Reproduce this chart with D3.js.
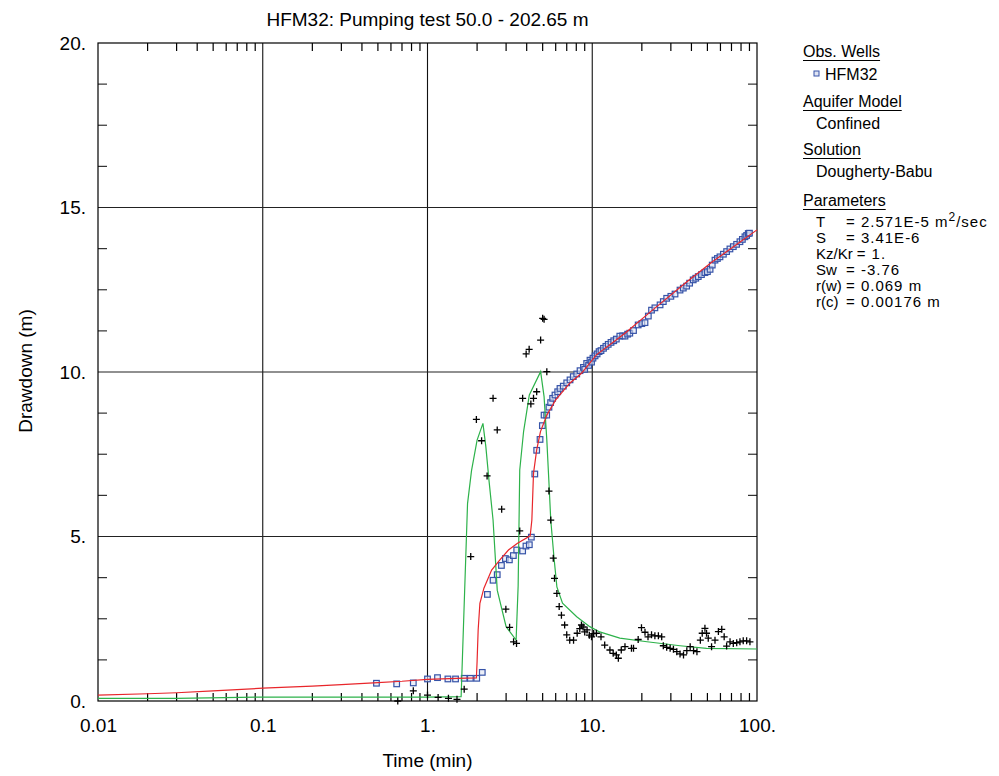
<!DOCTYPE html>
<html>
<head>
<meta charset="utf-8">
<script src="https://cdn.jsdelivr.net/npm/d3@7"></script>
<style>
  body { margin: 0; background: #fff; }
  svg { font-family: "Liberation Sans", Arial, sans-serif; }
</style>
</head>
<body>
<script>
// 축 눈금 라벨
var xTicks = [0.01, 0.1, 1, 10, 100];
var xTickLabels = ["0.01", "0.1", "1.", "10.", "100."];
var yTicks = [0, 5, 10, 15, 20];
var yTickLabels = ["0.", "5.", "10.", "15.", "20."];

// 관측정 HFM32 (사각형): [시간(min), 수위강하(m)]
var obsPoints = [
  [0.49,0.54],[0.65,0.52],[0.82,0.55],[1.0,0.67],[1.15,0.71],[1.33,0.67],[1.48,0.67],
  [1.67,0.69],[1.82,0.69],[1.99,0.69],[2.15,0.87],[2.31,3.24],[2.50,3.67],[2.65,3.84],
  [2.81,4.12],[2.97,4.33],[3.14,4.29],[3.32,4.42],[3.48,4.59],[3.78,4.56],[3.96,4.71],
  [4.15,4.75],[4.27,4.98],[4.48,6.90],[4.60,7.62],[4.82,7.95],[4.98,8.37],[5.10,8.69],
  [5.29,8.69],[5.46,8.93],[5.59,9.07],[5.75,9.20],[5.94,9.30],[6.17,9.40],[6.37,9.50],
  [6.67,9.57],[7.00,9.67],[7.33,9.76],[7.67,9.86],[8.05,9.94],[8.43,10.04],[8.84,10.14],
  [9.0,10.08],[9.25,10.26],[9.5,10.2],[9.69,10.36],[9.9,10.3],[10.1,10.42],[10.4,10.49],
  [10.7,10.55],[11.0,10.62],[11.3,10.65],[11.7,10.72],[12.1,10.78],[12.5,10.84],[13.0,10.9],
  [13.5,10.95],[14.0,11.0],[14.7,11.09],[15.3,11.1],[15.8,11.09],[16.4,11.15],[16.9,11.18],
  [17.8,11.26],[19.0,11.43],[20.0,11.47],[20.9,11.50],[21.9,11.70],[22.9,11.88],[24.0,11.95],
  [25.8,12.04],[27.0,12.14],[28.3,12.24],[30.0,12.3],[31.8,12.37],[34.1,12.49],[35.7,12.55],
  [37.4,12.61],[39.0,12.7],[41.0,12.80],[42.5,12.85],[44.0,12.90],[46.0,12.96],[48.3,13.02],
  [50.0,13.05],[51.9,13.12],[53.5,13.25],[55.6,13.40],[57.5,13.45],[59.6,13.50],[62.5,13.58],
  [65.4,13.66],[68.5,13.74],[71.8,13.81],[75.2,13.88],[78.8,13.96],[81.5,14.03],[84.5,14.11],
  [86.5,14.15],[88.5,14.21],[90,14.22]
];

// 양수정 측정값 (+ 기호)
var pumpPoints = [
  [0.66,0.0],[0.82,0.31],[1.0,0.18],[1.16,0.11],[1.34,0.08],[1.51,0.05],[1.67,0.36],
  [1.83,4.39],[1.98,8.56],[2.13,7.91],[2.30,6.84],[2.50,9.20],[2.65,8.24],[2.82,5.83],
  [2.99,2.79],[3.15,2.24],[3.33,1.80],[3.47,1.75],[3.63,5.17],[3.78,9.20],[3.97,10.55],
  [4.14,10.69],[4.24,9.03],[4.40,9.20],[4.60,9.40],[4.86,10.97],[5.0,11.63],[5.1,11.60],
  [5.3,10.01],[5.46,6.38],[5.6,5.50],[5.8,4.34],[5.9,3.73],[6.1,3.27],[6.3,2.87],[6.5,2.61],
  [6.8,2.31],[7.0,2.01],[7.3,1.85],[7.7,1.85],[8.1,2.06],[8.4,2.2],[8.6,2.31],[8.8,2.25],
  [9.0,2.1],[9.3,2.16],[9.6,2.0],[9.9,1.95],[10.2,2.05],[10.6,2.06],[11.3,1.95],[11.9,1.70],
  [12.8,1.55],[13.4,1.45],[14.0,1.40],[14.4,1.30],[15.0,1.55],[15.8,1.65],[17.3,1.60],
  [17.8,1.60],[19.0,1.87],[19.9,2.23],[20.9,2.09],[21.8,1.95],[22.9,2.01],[24.0,1.98],
  [25.2,1.98],[26.4,1.95],[27.0,1.68],[28.3,1.63],[29.7,1.60],[31.1,1.57],[32.6,1.50],
  [34.1,1.43],[35.8,1.40],[37.5,1.53],[39.3,1.65],[41.2,1.53],[43.2,1.50],[45.3,1.85],
  [46.5,2.06],[48.3,2.21],[49.4,2.06],[50.6,1.91],[53.0,1.65],[55.6,1.85],[58.3,2.11],
  [61.1,2.18],[63.2,1.95],[65.4,1.67],[68.6,1.80],[71.8,1.75],[75.3,1.77],[78.8,1.80],
  [82.5,1.83],[86.5,1.83],[90.6,1.80]
];

// Dougherty-Babu 적합 곡선 (관측정, 빨강)
var obsFit = [
  [0.01,0.18],[0.02,0.22],[0.03,0.25],[0.05,0.31],[0.1,0.39],[0.2,0.45],[0.3,0.5],
  [0.5,0.56],[0.7,0.6],[1.0,0.66],[1.5,0.69],[1.98,0.70],[2.0,1.2],[2.03,2.16],[2.08,2.97],
  [2.2,3.43],[2.45,3.98],[2.75,4.29],[3.1,4.59],[3.5,4.79],[4.2,5.02],[4.3,5.5],[4.4,6.92],
  [4.6,7.63],[4.85,8.19],[5.3,8.69],[6.0,9.15],[7.3,9.66],[8.6,9.96],[10.6,10.52],
  [15.8,11.18],[23.2,11.88],[37.7,12.75],[53.6,13.35],[77,13.91],[100,14.32]
];

// 적합 곡선 (양수정, 초록)
var pumpFit = [
  [0.01,0.08],[0.03,0.08],[0.1,0.12],[1.0,0.12],[1.6,0.13],[1.75,6.0],[1.85,7.0],
  [2.0,7.93],[2.17,8.44],[2.26,7.73],[2.36,6.72],[2.5,5.5],[2.65,3.37],[3.0,2.26],
  [3.45,1.85],[3.55,3.5],[3.63,7.02],[3.83,8.19],[4.15,9.30],[4.86,10.01],[5.1,9.25],
  [5.3,7.93],[5.45,6.72],[5.6,5.5],[5.85,4.39],[6.1,3.47],[6.6,2.97],[8.05,2.56],
  [9.66,2.26],[11.1,2.1],[14.7,1.91],[21.5,1.80],[34.1,1.68],[49.4,1.60],[100,1.58]
];

// 범례 파라미터
var paramNames = ["T", "S", "Kz/Kr", "Sw", "r(w)", "r(c)"];
var paramValues = ["= 2.571E-5 m", "= 3.41E-6", "= 1.", "= -3.76", "= 0.069 m", "= 0.00176 m"];

var LEFT = 98, RIGHT = 757, TOP = 43, BOTTOM = 701;

var svg = d3.select("body").append("svg")
  .attr("width", 999).attr("height", 776);

var x = d3.scaleLog().domain([0.01, 100]).range([LEFT, RIGHT]);
var y = d3.scaleLinear().domain([0, 20]).range([BOTTOM, TOP]);

// 보조 눈금
var xMinor = x.ticks().filter(function (d) { return xTicks.indexOf(d) < 0; });
var yMinor = d3.range(0, 20.01, 1.25).filter(function (d) { return d % 5 !== 0; });

var g = svg.append("g");

g.selectAll(".xminor-b").data(xMinor).enter().append("line")
  .attr("x1", function (d) { return x(d); }).attr("x2", function (d) { return x(d); })
  .attr("y1", BOTTOM).attr("y2", BOTTOM - 8)
  .attr("stroke", "#000").attr("stroke-width", 1.2);
g.selectAll(".xminor-t").data(xMinor).enter().append("line")
  .attr("x1", function (d) { return x(d); }).attr("x2", function (d) { return x(d); })
  .attr("y1", TOP).attr("y2", TOP + 8)
  .attr("stroke", "#000").attr("stroke-width", 1.2);
g.selectAll(".yminor-l").data(yMinor).enter().append("line")
  .attr("x1", LEFT).attr("x2", LEFT + 9)
  .attr("y1", function (d) { return y(d); }).attr("y2", function (d) { return y(d); })
  .attr("stroke", "#333").attr("stroke-width", 1.2);
g.selectAll(".yminor-r").data(yMinor).enter().append("line")
  .attr("x1", RIGHT).attr("x2", RIGHT - 9)
  .attr("y1", function (d) { return y(d); }).attr("y2", function (d) { return y(d); })
  .attr("stroke", "#333").attr("stroke-width", 1.2);

// 격자선
g.selectAll(".vgrid").data(xTicks.slice(1, -1)).enter().append("line")
  .attr("x1", function (d) { return x(d); }).attr("x2", function (d) { return x(d); })
  .attr("y1", TOP).attr("y2", BOTTOM)
  .attr("stroke", "#111").attr("stroke-width", 1.1);
g.selectAll(".hgrid").data(yTicks.slice(1, -1)).enter().append("line")
  .attr("x1", LEFT).attr("x2", RIGHT)
  .attr("y1", function (d) { return y(d); }).attr("y2", function (d) { return y(d); })
  .attr("stroke", "#222").attr("stroke-width", 1.1);

g.append("rect")
  .attr("x", LEFT).attr("y", TOP)
  .attr("width", RIGHT - LEFT).attr("height", BOTTOM - TOP)
  .attr("fill", "none").attr("stroke", "#000").attr("stroke-width", 1.2);

// 축 라벨
var xAxis = d3.axisBottom(x).tickValues(xTicks)
  .tickFormat(function (d, i) { return xTickLabels[i]; })
  .tickSize(0).tickPadding(18);
var xg = svg.append("g").attr("transform", "translate(0," + BOTTOM + ")").call(xAxis);
xg.select(".domain").remove();
xg.selectAll("text").attr("font-size", 19).attr("fill", "#000")
  .attr("font-family", "Liberation Sans, Arial, sans-serif");

var yAxis = d3.axisLeft(y).tickValues(yTicks)
  .tickFormat(function (d, i) { return yTickLabels[i]; })
  .tickSize(0).tickPadding(12);
var yg = svg.append("g").attr("transform", "translate(" + LEFT + ",0)").call(yAxis);
yg.select(".domain").remove();
yg.selectAll("text").attr("font-size", 19).attr("fill", "#000")
  .attr("font-family", "Liberation Sans, Arial, sans-serif");

svg.append("text").attr("x", (LEFT + RIGHT) / 2).attr("y", 26)
  .attr("text-anchor", "middle").attr("font-size", 19).text("HFM32: Pumping test 50.0 - 202.65 m");
svg.append("text").attr("x", (LEFT + RIGHT) / 2).attr("y", 767)
  .attr("text-anchor", "middle").attr("font-size", 19).text("Time (min)");
svg.append("text").attr("transform", "translate(32,371) rotate(-90)")
  .attr("text-anchor", "middle").attr("font-size", 19).text("Drawdown (m)");

// 곡선과 점
var plot = svg.append("g");
var line = d3.line().x(function (d) { return x(d[0]); }).y(function (d) { return y(d[1]); });

plot.selectAll(".sq").data(obsPoints).enter().append("rect")
  .attr("x", function (d) { return x(d[0]) - 2.8; })
  .attr("y", function (d) { return y(d[1]) - 2.8; })
  .attr("width", 5.6).attr("height", 5.6)
  .attr("fill", "#dfe4f3").attr("fill-opacity", 0.6)
  .attr("stroke", "#3653a8").attr("stroke-width", 1.2);

plot.append("path").datum(pumpFit).attr("d", line)
  .attr("fill", "none").attr("stroke", "#2db24a").attr("stroke-width", 1.2);
plot.append("path").datum(obsFit).attr("d", line)
  .attr("fill", "none").attr("stroke", "#e8262b").attr("stroke-width", 1.2);

plot.selectAll(".cross").data(pumpPoints).enter().append("path")
  .attr("d", function (d) {
    var cx = x(d[0]), cy = y(d[1]), s = 3.5;
    return "M" + (cx - s) + "," + cy + "H" + (cx + s) + "M" + cx + "," + (cy - s) + "V" + (cy + s);
  })
  .attr("stroke", "#000").attr("stroke-width", 1.3).attr("fill", "none");

// 범례
var leg = svg.append("g").attr("font-size", 16).attr("fill", "#000");
function header(txt, yy) {
  var t = leg.append("text").attr("x", 803).attr("y", yy).text(txt);
  var w = t.node().getComputedTextLength();
  leg.append("line").attr("x1", 803).attr("x2", 803 + w)
    .attr("y1", yy + 3.5).attr("y2", yy + 3.5).attr("stroke", "#000").attr("stroke-width", 1);
}
header("Obs. Wells", 57);
leg.append("rect").attr("x", 814).attr("y", 71).attr("width", 5).attr("height", 5)
  .attr("fill", "#dfe4f3").attr("stroke", "#3653a8").attr("stroke-width", 1);
leg.append("text").attr("x", 825).attr("y", 80).text("HFM32");
header("Aquifer Model", 107);
leg.append("text").attr("x", 816).attr("y", 129).text("Confined");
header("Solution", 155);
leg.append("text").attr("x", 816).attr("y", 177).text("Dougherty-Babu");
header("Parameters", 206);

paramNames.forEach(function (n, i) {
  var yy = 227 + i * 16;
  var t = leg.append("text").attr("x", 816).attr("y", yy).attr("font-size", 15).text(n);
  var vx = (n === "Kz/Kr") ? 816 + t.node().getComputedTextLength() + 4 : 846;
  var v = leg.append("text").attr("x", vx).attr("y", yy).attr("font-size", 15)
    .attr("letter-spacing", 1).text(paramValues[i]);
  if (i === 0) {
    v.append("tspan").attr("dy", -6).attr("font-size", 12).text("2");
    v.append("tspan").attr("dy", 6).text("/sec");
  }
});
</script>
</body>
</html>
